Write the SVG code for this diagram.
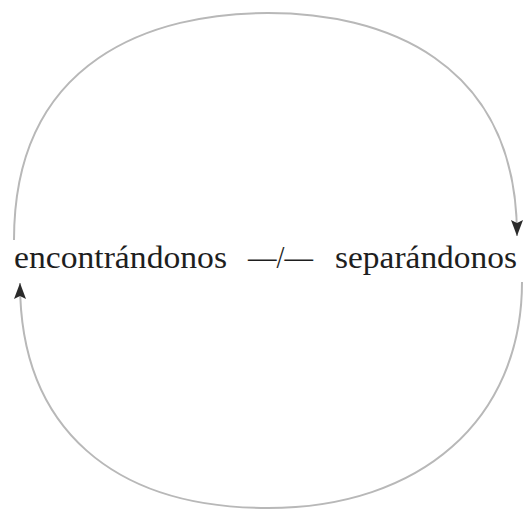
<svg xmlns="http://www.w3.org/2000/svg" width="524" height="511" viewBox="0 0 524 511">
  <style>
    .arc { fill: none; stroke: #b8b8b8; stroke-width: 2; }
    .lbl { font-family: "Liberation Serif", "DejaVu Serif", serif; font-size: 32px; fill: #1e1e1e; }
  </style>
  <defs>
    <marker id="arrow" viewBox="0 0 16 12" refX="16" refY="6" markerWidth="16" markerHeight="12" markerUnits="userSpaceOnUse" orient="auto">
      <path d="M0,0 L16,6 L0,12 L3,6 Z" fill="#2a2a2a"/>
    </marker>
  </defs>
  <rect width="524" height="511" fill="#ffffff"/>
  <g id="connectors">
    <path id="top-arc" class="arc" d="M14,240 C14,58 154,13 268,13 C380,13 517,58 517,236" marker-end="url(#arrow)"/>
    <path id="bottom-arc" class="arc" d="M522,282 C522,420 420,508 268,508 C115,508 20,430 20,283" marker-end="url(#arrow)"/>
  </g>
  <g id="label">
    <text class="lbl" y="268"><tspan x="14" textLength="213" lengthAdjust="spacingAndGlyphs">encontrándonos</tspan> <tspan x="248" textLength="65" lengthAdjust="spacingAndGlyphs">—/—</tspan> <tspan x="335" textLength="182" lengthAdjust="spacingAndGlyphs">separándonos</tspan></text>
  </g>
</svg>
